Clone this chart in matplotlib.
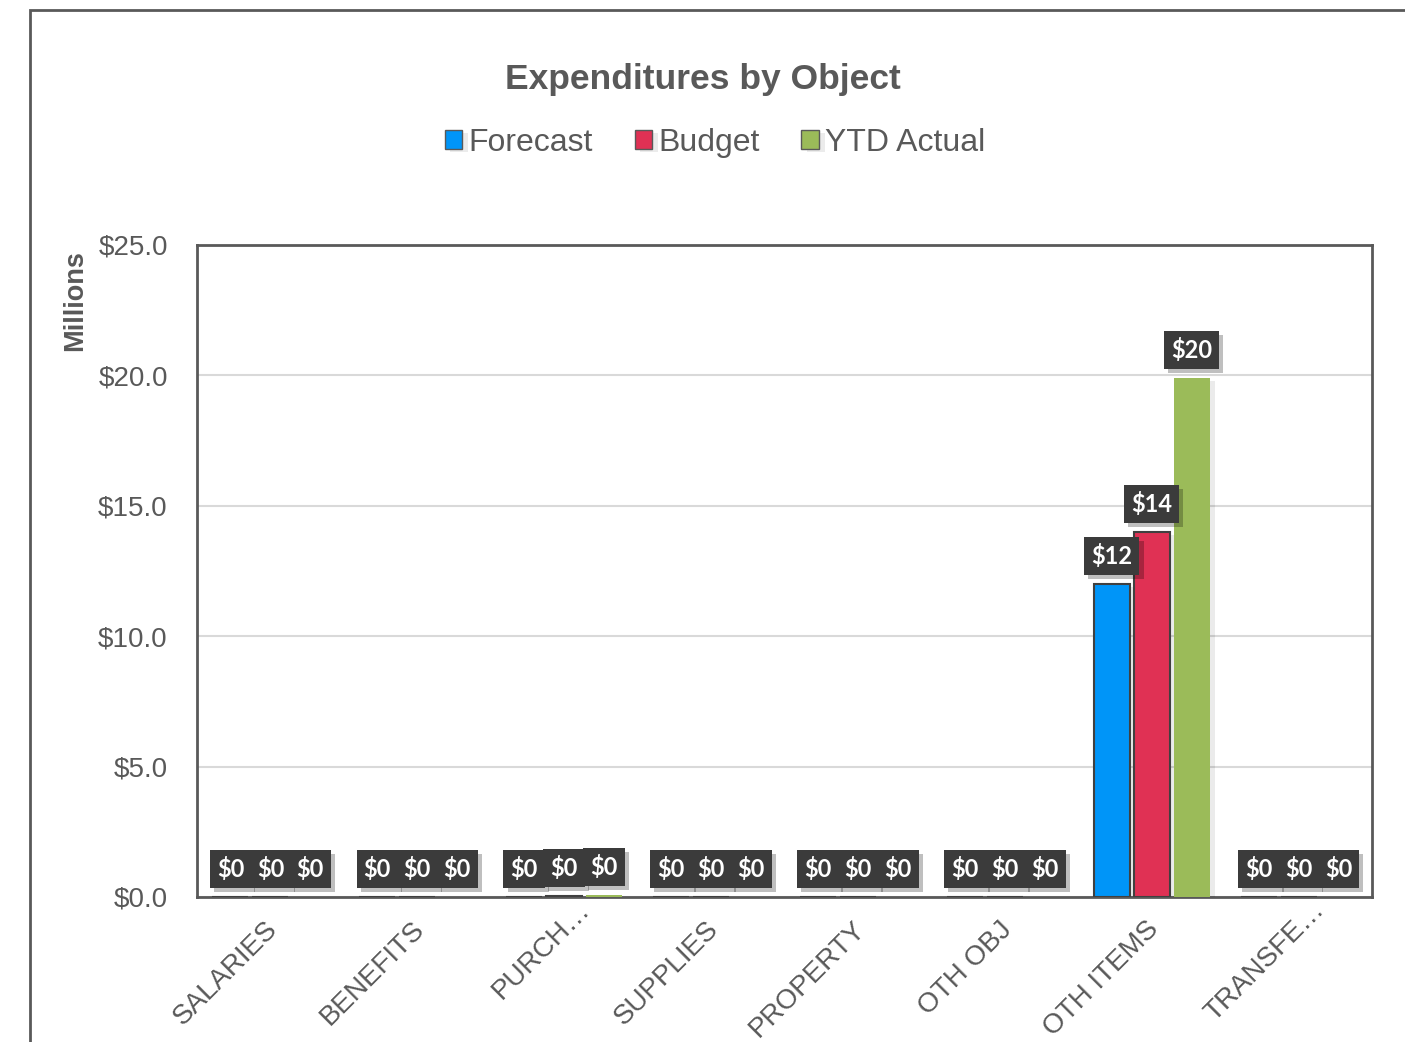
import matplotlib.pyplot as plt
import matplotlib.patheffects as pe
import matplotlib.transforms as mtransforms
from matplotlib.patches import Rectangle
import numpy as np

# Dépenses par objet (en millions)
categories = ['SALARIES', 'BENEFITS', 'PURCH…', 'SUPPLIES',
              'PROPERTY', 'OTH OBJ', 'OTH ITEMS', 'TRANSFE…']
forecast = [0.0, 0.0, 0.0, 0.0, 0.0, 0.0, 12.0, 0.0]
budget = [0.0, 0.0, 0.05, 0.0, 0.0, 0.0, 14.0, 0.0]
ytd_actual = [0.0, 0.0, 0.08, 0.0, 0.0, 0.0, 19.9, 0.0]
y_ticks = [0, 5, 10, 15, 20, 25]

gris = '#595959'
plt.rcParams['font.family'] = ['Liberation Sans', 'DejaVu Sans']

fig = plt.figure(figsize=(14.05, 10.42), dpi=100)
ax = fig.add_axes([0.1402, 0.1392, 0.8363, 0.6257])

# cadre extérieur du graphique
fig.patches.append(Rectangle((30 / 1405, -0.1), 1.1, 1.1 - 10 / 1042,
                             transform=fig.transFigure, fill=False,
                             edgecolor=gris, linewidth=2, zorder=0))

x = np.arange(len(categories))
w = 0.245
series = [
    ('Forecast', forecast, '#0095F8', '#404040'),
    ('Budget', budget, '#E03154', '#404040'),
    ('YTD Actual', ytd_actual, '#9BBB59', 'none'),
]

ombre = [pe.SimplePatchShadow(offset=(3, -3), shadow_rgbFace='#000000', alpha=0.25), pe.Normal()]
ombre_barre = [pe.SimplePatchShadow(offset=(4, -2), shadow_rgbFace='#000000', alpha=0.08), pe.Normal()]

for i, (nom, vals, coul, bord) in enumerate(series):
    pos = x + (i - 1) * (w + 0.027)
    barres = ax.bar(pos, vals, width=w, color=coul, edgecolor=bord, linewidth=1.5,
                    label=nom, zorder=3)
    for b in barres:
        b.set_path_effects(ombre_barre)
    for px, v in zip(pos, vals):
        t = ax.annotate(f'${v:.0f}', (px, v), xytext=(0, 20),
                        textcoords='offset points', ha='center', va='center',
                        fontsize=17, fontweight='bold', color='white',
                        family=['Lato', 'DejaVu Sans'], zorder=5,
                        bbox=dict(boxstyle='square,pad=0.3', facecolor='#3b3b3b',
                                  edgecolor='none'))
        t.get_bbox_patch().set_path_effects(ombre)

ax.set_xlim(-0.5, len(categories) - 0.5)
ax.set_ylim(0, 25)
ax.set_yticks(y_ticks)
ax.set_yticklabels([f'${v:.1f}' for v in y_ticks])
ax.set_xticks(x)
ax.set_xticklabels(categories, rotation=45, ha='right', rotation_mode='anchor')
ax.tick_params(axis='both', length=0, labelsize=20, colors=gris)
ax.tick_params(axis='y', pad=21)
ax.tick_params(axis='x', pad=14)
# petit décalage des étiquettes ; les libellés tronqués débordent vers le haut
for lab in ax.get_xticklabels():
    if lab.get_text().endswith('…'):
        decal = mtransforms.ScaledTranslation(13 / 100, 20 / 100, fig.dpi_scale_trans)
    else:
        decal = mtransforms.ScaledTranslation(-6 / 100, 0, fig.dpi_scale_trans)
    lab.set_transform(lab.get_transform() + decal)
ax.grid(axis='y', color='#d9d9d9', linewidth=1.5, zorder=0)
ax.set_axisbelow(True)
for s in ax.spines.values():
    s.set_color(gris)
    s.set_linewidth(2)

ax.set_ylabel('Millions', fontsize=19.5, fontweight='bold', color=gris)
ax.yaxis.set_label_coords(-0.093, 0.915)

fig.text(0.5, 1 - 79 / 1042, 'Expenditures by Object', ha='center', va='center',
         fontsize=25.5, fontweight='bold', color=gris)

leg = fig.legend(loc='center', bbox_to_anchor=(0.509, 1 - 143 / 1042), ncol=3,
                 frameon=False, fontsize=23, handlelength=0.55, handleheight=0.55,
                 handletextpad=0.2, columnspacing=1.3)
for txt in leg.get_texts():
    txt.set_color(gris)
for h in leg.legend_handles:
    h.set_edgecolor('#595959')
    h.set_linewidth(1)

plt.savefig('out.png', dpi=100)
